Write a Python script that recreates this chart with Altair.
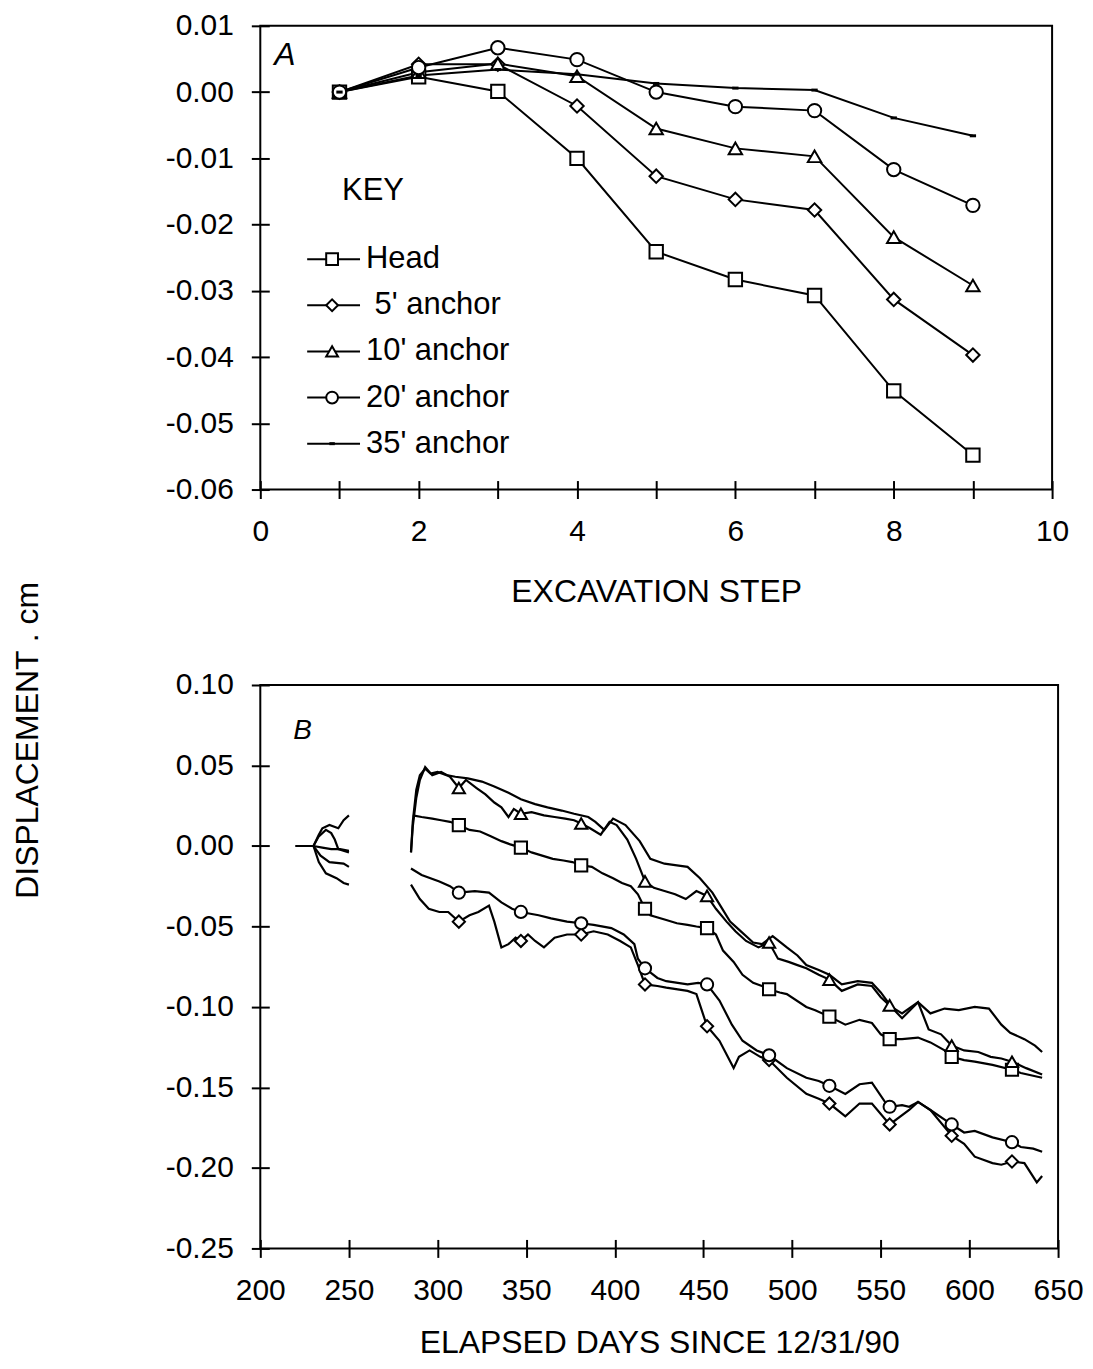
import altair as alt
import pandas as pd

FONT = "Liberation Sans"

# ---------------- Panel A : excavation steps ----------------
STEPS = [1, 2, 3, 4, 5, 6, 7, 8, 9]
SERIES = ["Head", "5' anchor", "10' anchor", "20' anchor", "35' anchor"]
KEY_LABELS = ["Head", "\u200b\u00a05' anchor", "10' anchor", "20' anchor", "35' anchor"]
KEY_TITLE = ["KEY"]
A_HEAD = [0.0, 0.0023, 0.0001, -0.0100, -0.0241, -0.0283, -0.0307, -0.0451, -0.0548]
A_5 = [0.0, 0.0042, 0.0042, -0.0021, -0.0127, -0.0162, -0.0178, -0.0313, -0.0397]
A_10 = [0.0, 0.0030, 0.0043, 0.0024, -0.0055, -0.0085, -0.0097, -0.0219, -0.0292]
A_20 = [0.0, 0.0037, 0.0067, 0.0049, 0.0000, -0.0022, -0.0028, -0.0117, -0.0171]
A_35 = [0.0, 0.0025, 0.0034, 0.0027, 0.0013, 0.0006, 0.0003, -0.0039, -0.0066]
A_XTICKS = [0, 1, 2, 3, 4, 5, 6, 7, 8, 9, 10]
A_YTICKS = [0.01, 0.0, -0.01, -0.02, -0.03, -0.04, -0.05, -0.06]

# ---------------- Panel B : elapsed days ----------------
B_XTICKS = [200, 250, 300, 350, 400, 450, 500, 550, 600, 650]
B_YTICKS = [0.10, 0.05, 0.0, -0.05, -0.10, -0.15, -0.20, -0.25]
MARK_DAYS = [312, 347, 381, 417, 452, 487, 521, 555, 590, 624]

# early segment (days ~220-250)
E_HEAD_D = [220, 230, 235, 240, 245, 250]
E_HEAD_V = [0.0, 0.0, -0.001, -0.002, -0.002, -0.003]
E_5_D = [220, 230, 233, 237, 243, 247, 250]
E_5_V = [0.0, 0.0, -0.010, -0.017, -0.020, -0.023, -0.024]
E_10_D = [220, 230, 233, 235, 239, 244, 247, 250]
E_10_V = [0.0, 0.0, 0.007, 0.011, 0.013, 0.011, 0.016, 0.019]
E_20_D = [220, 230, 234, 239, 247, 250]
E_20_V = [0.0, 0.0, -0.006, -0.010, -0.011, -0.013]
E_35_D = [220, 230, 233, 237, 240, 242, 244, 250]
E_35_V = [0.0, 0.0, 0.006, 0.010, 0.008, 0.004, -0.002, -0.004]

# main segment (days ~285-641)
B_HEAD_D = [286, 291, 297, 302, 307, 312, 318, 324, 330, 336, 341, 347, 353, 359, 365,
            371, 376, 381, 387, 393, 399, 404, 409, 413, 417, 420, 429, 435, 441, 446,
            452, 457, 461, 467, 472, 478, 483, 487, 493, 497, 508, 513, 521, 530, 538,
            545, 550, 555, 562, 571, 578, 586, 590, 597, 603, 613, 624, 629, 641]
B_HEAD_V = [0.019, 0.018, 0.017, 0.016, 0.015, 0.013, 0.010, 0.009, 0.006, 0.003,
            0.001, -0.001, -0.004, -0.006, -0.008, -0.009, -0.010, -0.012, -0.013, -0.017,
            -0.020, -0.023, -0.025, -0.030, -0.039, -0.043, -0.046, -0.048, -0.049, -0.050,
            -0.051, -0.055, -0.065, -0.072, -0.080, -0.085, -0.087, -0.089, -0.091, -0.092,
            -0.100, -0.102, -0.106, -0.111, -0.108, -0.110, -0.117, -0.120, -0.120, -0.119,
            -0.122, -0.127, -0.131, -0.133, -0.134, -0.136, -0.139, -0.141, -0.144]
B_5_D = [285, 290, 295, 301, 306, 312, 318, 323, 329, 332, 336, 340, 344, 347, 351,
         355, 360, 366, 373, 381, 388, 396, 403, 409, 413, 417, 424, 429, 441, 446,
         452, 459, 467, 470, 476, 482, 487, 497, 508, 515, 521, 530, 538, 545, 555,
         566, 571, 578, 590, 597, 603, 613, 618, 624, 631, 638, 641]
B_5_V = [-0.024, -0.033, -0.039, -0.041, -0.041, -0.047, -0.043, -0.041, -0.037, -0.047,
         -0.063, -0.061, -0.057, -0.059, -0.055, -0.059, -0.063, -0.057, -0.055, -0.055,
         -0.053, -0.055, -0.059, -0.063, -0.074, -0.086, -0.087, -0.088, -0.090, -0.092,
         -0.112, -0.121, -0.138, -0.131, -0.127, -0.131, -0.133, -0.144, -0.154, -0.157,
         -0.160, -0.168, -0.160, -0.160, -0.173, -0.164, -0.159, -0.164, -0.180, -0.185,
         -0.193, -0.197, -0.198, -0.196, -0.197, -0.209, -0.205]
B_10_D = [285, 286, 288, 290, 293, 297, 302, 307, 312, 316, 322, 327, 332, 336, 340,
          343, 347, 353, 360, 366, 372, 377, 381, 386, 392, 397, 401, 407, 412, 417,
          422, 428, 434, 440, 446, 452, 457, 463, 468, 474, 481, 487, 492, 498, 503,
          508, 515, 521, 528, 537, 545, 550, 555, 562, 571, 577, 584, 590, 597, 605,
          612, 618, 624, 632, 641]
B_10_V = [-0.004, 0.012, 0.030, 0.041, 0.049, 0.044, 0.046, 0.043, 0.036, 0.041,
          0.036, 0.032, 0.027, 0.024, 0.018, 0.023, 0.020, 0.021, 0.019, 0.018,
          0.017, 0.016, 0.014, 0.011, 0.007, 0.015, 0.013, 0.004, -0.008, -0.022,
          -0.026, -0.028, -0.030, -0.033, -0.028, -0.031, -0.039, -0.047, -0.053, -0.059,
          -0.063, -0.060, -0.070, -0.072, -0.074, -0.076, -0.080, -0.083, -0.090, -0.086,
          -0.087, -0.094, -0.099, -0.107, -0.097, -0.114, -0.117, -0.124, -0.127, -0.128,
          -0.131, -0.132, -0.134, -0.138, -0.142]
B_20_D = [285, 291, 301, 307, 312, 321, 329, 336, 342, 347, 357, 364, 373, 381, 388,
          398, 405, 411, 413, 417, 424, 429, 441, 447, 452, 459, 466, 472, 480, 487,
          497, 508, 515, 521, 530, 538, 545, 553, 555, 562, 566, 571, 578, 586, 590,
          597, 603, 613, 624, 629, 636, 641]
B_20_V = [-0.014, -0.018, -0.022, -0.025, -0.029, -0.028, -0.029, -0.035, -0.039, -0.041,
          -0.043, -0.045, -0.047, -0.048, -0.049, -0.051, -0.055, -0.061, -0.070, -0.076,
          -0.082, -0.084, -0.086, -0.085, -0.086, -0.096, -0.111, -0.121, -0.127, -0.130,
          -0.138, -0.144, -0.146, -0.149, -0.154, -0.148, -0.147, -0.160, -0.162, -0.161,
          -0.162, -0.159, -0.164, -0.170, -0.173, -0.178, -0.177, -0.181, -0.184, -0.187,
          -0.188, -0.190]
B_35_D = [285, 286, 288, 290, 293, 296, 300, 305, 310, 317, 325, 332, 340, 347, 355,
          362, 370, 377, 385, 389, 394, 399, 406, 414, 420, 428, 435, 441, 448, 455,
          460, 465, 470, 478, 483, 489, 497, 503, 508, 515, 521, 528, 537, 545, 550,
          556, 562, 571, 578, 586, 594, 603, 611, 618, 623, 631, 637, 641]
B_35_V = [-0.004, 0.015, 0.035, 0.044, 0.048, 0.045, 0.046, 0.044, 0.043, 0.042,
          0.040, 0.037, 0.033, 0.029, 0.026, 0.024, 0.022, 0.020, 0.018, 0.015,
          0.010, 0.017, 0.013, 0.003, -0.008, -0.011, -0.012, -0.013, -0.020, -0.029,
          -0.038, -0.047, -0.052, -0.060, -0.061, -0.056, -0.063, -0.068, -0.074, -0.077,
          -0.080, -0.086, -0.084, -0.085, -0.091, -0.100, -0.104, -0.097, -0.104, -0.101,
          -0.102, -0.100, -0.101, -0.111, -0.116, -0.120, -0.124, -0.128]

# ---------------- tables ----------------
rows_a = []
for name, vals in zip(SERIES, [A_HEAD, A_5, A_10, A_20, A_35]):
    for s, v in zip(STEPS, vals):
        rows_a.append({"series": name, "step": s, "value": v})
df_a = pd.DataFrame(rows_a)
df_key = pd.DataFrame({"series": SERIES, "label": KEY_LABELS, "row": list(range(len(SERIES)))})

rows_b = []
early = {"Head": (E_HEAD_D, E_HEAD_V), "5' anchor": (E_5_D, E_5_V), "10' anchor": (E_10_D, E_10_V),
         "20' anchor": (E_20_D, E_20_V), "35' anchor": (E_35_D, E_35_V)}
main = {"Head": (B_HEAD_D, B_HEAD_V), "5' anchor": (B_5_D, B_5_V), "10' anchor": (B_10_D, B_10_V),
        "20' anchor": (B_20_D, B_20_V), "35' anchor": (B_35_D, B_35_V)}
for name in SERIES:
    for part, src in (("early", early), ("main", main)):
        days, vals = src[name]
        for d, v in zip(days, vals):
            rows_b.append({"series": name, "trace": name + "|" + part, "day": d, "value": v,
                           "marker": (part == "main" and d in MARK_DAYS and name != "35' anchor")})
df_b = pd.DataFrame(rows_b)

MINUS_EXPR = "replace(format(datum.value, '.2f'), '\u2212', '-')"
SHAPES = ["square", "diamond", "triangle-up", "circle"]
shape_scale = alt.Scale(domain=SERIES[:4], range=SHAPES)

# ---------------- Panel A ----------------
xa = alt.X("step:Q", scale=alt.Scale(domain=[0, 10], nice=False, zero=False),
           axis=alt.Axis(values=A_XTICKS, labelExpr="datum.value % 2 === 0 ? datum.label : ''",
                         title="EXCAVATION STEP", offset=-9, tickSize=18, domain=False,
                         labelPadding=18, titlePadding=30, labelFlush=False))
ya = alt.Y("value:Q", scale=alt.Scale(domain=[-0.06, 0.01], nice=False, zero=False),
           axis=alt.Axis(values=A_YTICKS, labelExpr=MINUS_EXPR, title=None, offset=-9,
                         tickSize=18, domain=False, labelPadding=18, labelFlush=False))

a_lines = alt.Chart(df_a).mark_line(color="black", strokeWidth=2).encode(
    x=xa, y=ya, detail="series:N")
a_points = alt.Chart(df_a).transform_filter(alt.datum.series != "35' anchor").mark_point(
    filled=True, fill="white", stroke="black", strokeWidth=2, size=180, opacity=1).encode(
    x=xa, y=ya, shape=alt.Shape("series:N", scale=shape_scale, legend=None))
a_dash = alt.Chart(df_a).transform_filter(alt.datum.series == "35' anchor").mark_point(
    shape="stroke", stroke="black", strokeWidth=3, size=40, opacity=1).encode(x=xa, y=ya)

# ---- key (legend box) placed in the plot's pixel space ----
key_base = alt.Chart(df_key).transform_calculate(ky="234 + 46.25 * datum.row")
key_y = alt.Y("ky:Q", scale=None, axis=None)
key_stub = key_base.mark_rule(color="black", strokeWidth=2).encode(
    x=alt.value(47), x2=alt.value(100), y=key_y)
key_sym = key_base.transform_filter(alt.datum.series != "35' anchor").mark_point(
    filled=True, fill="white", stroke="black", strokeWidth=2, size=140, opacity=1).encode(
    x=alt.value(72), y=key_y, shape=alt.Shape("series:N", scale=shape_scale, legend=None))
key_dash = key_base.transform_filter(alt.datum.series == "35' anchor").mark_point(
    shape="stroke", stroke="black", strokeWidth=3, size=30, opacity=1).encode(
    x=alt.value(72), y=key_y)
key_text = key_base.mark_text(font=FONT, fontSize=31, align="left", baseline="middle",
                              color="black").encode(x=alt.value(106), y=key_y, text="label:N")
key_title = alt.Chart(pd.DataFrame({"t": KEY_TITLE})).mark_text(
    font=FONT, fontSize=31, align="left", baseline="middle", color="black").encode(
    x=alt.value(82), y=alt.value(166), text="t:N")

a_label = alt.Chart(pd.DataFrame({"panel": ["A"]})).mark_text(
    font=FONT, fontSize=32, fontStyle="italic", align="left", baseline="top",
    color="black").encode(x=alt.value(14), y=alt.value(14), text="panel:N")

panel_a = alt.layer(a_lines, a_points, a_dash, key_stub, key_sym, key_dash, key_text,
                    key_title, a_label).properties(width=794, height=465)

# ---------------- Panel B ----------------
xb = alt.X("day:Q", scale=alt.Scale(domain=[200, 650], nice=False, zero=False),
           axis=alt.Axis(values=B_XTICKS, format="d", title="ELAPSED DAYS SINCE 12/31/90",
                         offset=-9, tickSize=18, domain=False, labelPadding=18,
                         titlePadding=22, labelFlush=False))
yb = alt.Y("value:Q", scale=alt.Scale(domain=[-0.25, 0.10], nice=False, zero=False),
           axis=alt.Axis(values=B_YTICKS, labelExpr=MINUS_EXPR, title="DISPLACEMENT . cm",
                         titleX=-225, titleY=55, titleAngle=270, titleAlign="center",
                         titleBaseline="bottom", offset=-9, tickSize=18, domain=False,
                         labelPadding=18, labelFlush=False))

b_lines = alt.Chart(df_b).mark_line(color="black", strokeWidth=2.2).encode(
    x=xb, y=yb, detail="trace:N", order="day:Q")
b_points = alt.Chart(df_b).transform_filter(alt.datum.marker).mark_point(
    filled=True, fill="white", stroke="black", strokeWidth=2, size=150, opacity=1).encode(
    x=xb, y=yb, shape=alt.Shape("series:N", scale=shape_scale, legend=None))
b_label = alt.Chart(pd.DataFrame({"panel": ["B"]})).mark_text(
    font=FONT, fontSize=28, fontStyle="italic", align="left", baseline="top",
    color="black").encode(x=alt.value(33), y=alt.value(32), text="panel:N")

panel_b = alt.layer(b_lines, b_points, b_label).properties(width=800, height=565)

chart = alt.vconcat(panel_a, panel_b, spacing=196, bounds="flush").properties(
    padding={"left": 3, "top": 0, "right": 0, "bottom": -2}
).configure(font=FONT).configure_view(
    stroke="black", strokeWidth=2
).configure_axis(
    labelFont=FONT, titleFont=FONT, labelFontSize=30, titleFontSize=32,
    labelColor="black", titleColor="black", tickColor="black", tickWidth=2,
    titleFontWeight="normal", grid=False
)

chart.save("out.html", embed_options={"renderer": "svg", "actions": False})
